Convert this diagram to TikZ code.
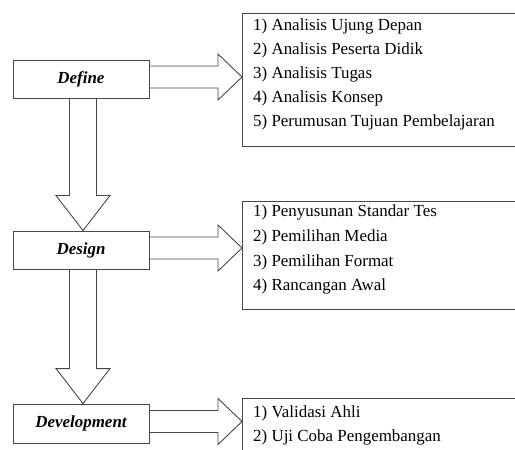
\documentclass[tikz,border=0pt]{standalone}
\usepackage{fontspec}
\setmainfont{Liberation Serif}
\usetikzlibrary{calc}
\begin{document}
\begin{tikzpicture}[x=1bp,y=-1bp,
  ln/.style={draw=black!72, line width=0.9bp},
  stage/.style={ln, rectangle, minimum width=136bp, minimum height=38bp, inner sep=0pt,
    font=\fontsize{17}{20}\selectfont\bfseries\itshape},
  listbox/.style={ln, rectangle, inner sep=0pt, anchor=north west},
  item/.style={anchor=base west, inner sep=0pt, font=\fontsize{17}{20}\selectfont},
  blk/.style={ln, line join=miter}]
\clip (0,0) rectangle (515,450);
% stage boxes
\node[stage] (define) at (81,79) {Define};
\node[stage] (design) at (81,250) {Design};
\node[stage, minimum height=39bp] (devel) at (81,423.5) {Development};
% list boxes
\node[listbox, minimum width=285bp, minimum height=133bp] (list1) at (242,13) {};
\node[listbox, minimum width=285bp, minimum height=108bp] (list2) at (242,201) {};
\node[listbox, minimum width=285bp, minimum height=80bp] (list3) at (242,398) {};
% list texts
\foreach \t [count=\i] in {1) Analisis Ujung Depan, 2) Analisis Peserta Didik, 3) Analisis Tugas, 4) Analisis Konsep, 5) Perumusan Tujuan Pembelajaran}
  \node[item] (a\i) at (253,{31+24*(\i-1)}) {\t};
\foreach \t [count=\i] in {1) Penyusunan Standar Tes, 2) Pemilihan Media, 3) Pemilihan Format, 4) Rancangan Awal}
  \node[item] (b\i) at (253,{217+24.6*(\i-1)}) {\t};
\foreach \t [count=\i] in {1) Validasi Ahli, 2) Uji Coba Pengembangan}
  \node[item] (c\i) at (253,{417+24*(\i-1)}) {\t};
% right block arrows
\foreach \s/\l in {define/list1, design/list2, devel/list3}{
  \coordinate (tip-\s) at ($(\s.east -| \l.west)+(0,-2)$);
  \coordinate (base-\s) at ($(\s.east)+(0,-2)$);
  \draw[blk] ($(base-\s)+(0,-11)$) -- ($(tip-\s)+(-24,-11)$) -- ($(tip-\s)+(-24,-23)$)
    -- (tip-\s) -- ($(tip-\s)+(-24,23)$) -- ($(tip-\s)+(-24,11)$) -- ($(base-\s)+(0,11)$);
}
% down block arrows
\foreach \a/\b in {define/design, design/devel}{
  \coordinate (dtip-\a) at ($(\b.north)+(2,0)$);
  \coordinate (dbase-\a) at ($(\a.south)+(2,0)$);
  \draw[blk] ($(dbase-\a)+(-13.5,0)$) -- ($(dtip-\a)+(-13.5,-35)$) -- ($(dtip-\a)+(-27,-35)$)
    -- (dtip-\a) -- ($(dtip-\a)+(27,-35)$) -- ($(dtip-\a)+(13.5,-35)$) -- ($(dbase-\a)+(13.5,0)$);
}
\end{tikzpicture}
\end{document}
